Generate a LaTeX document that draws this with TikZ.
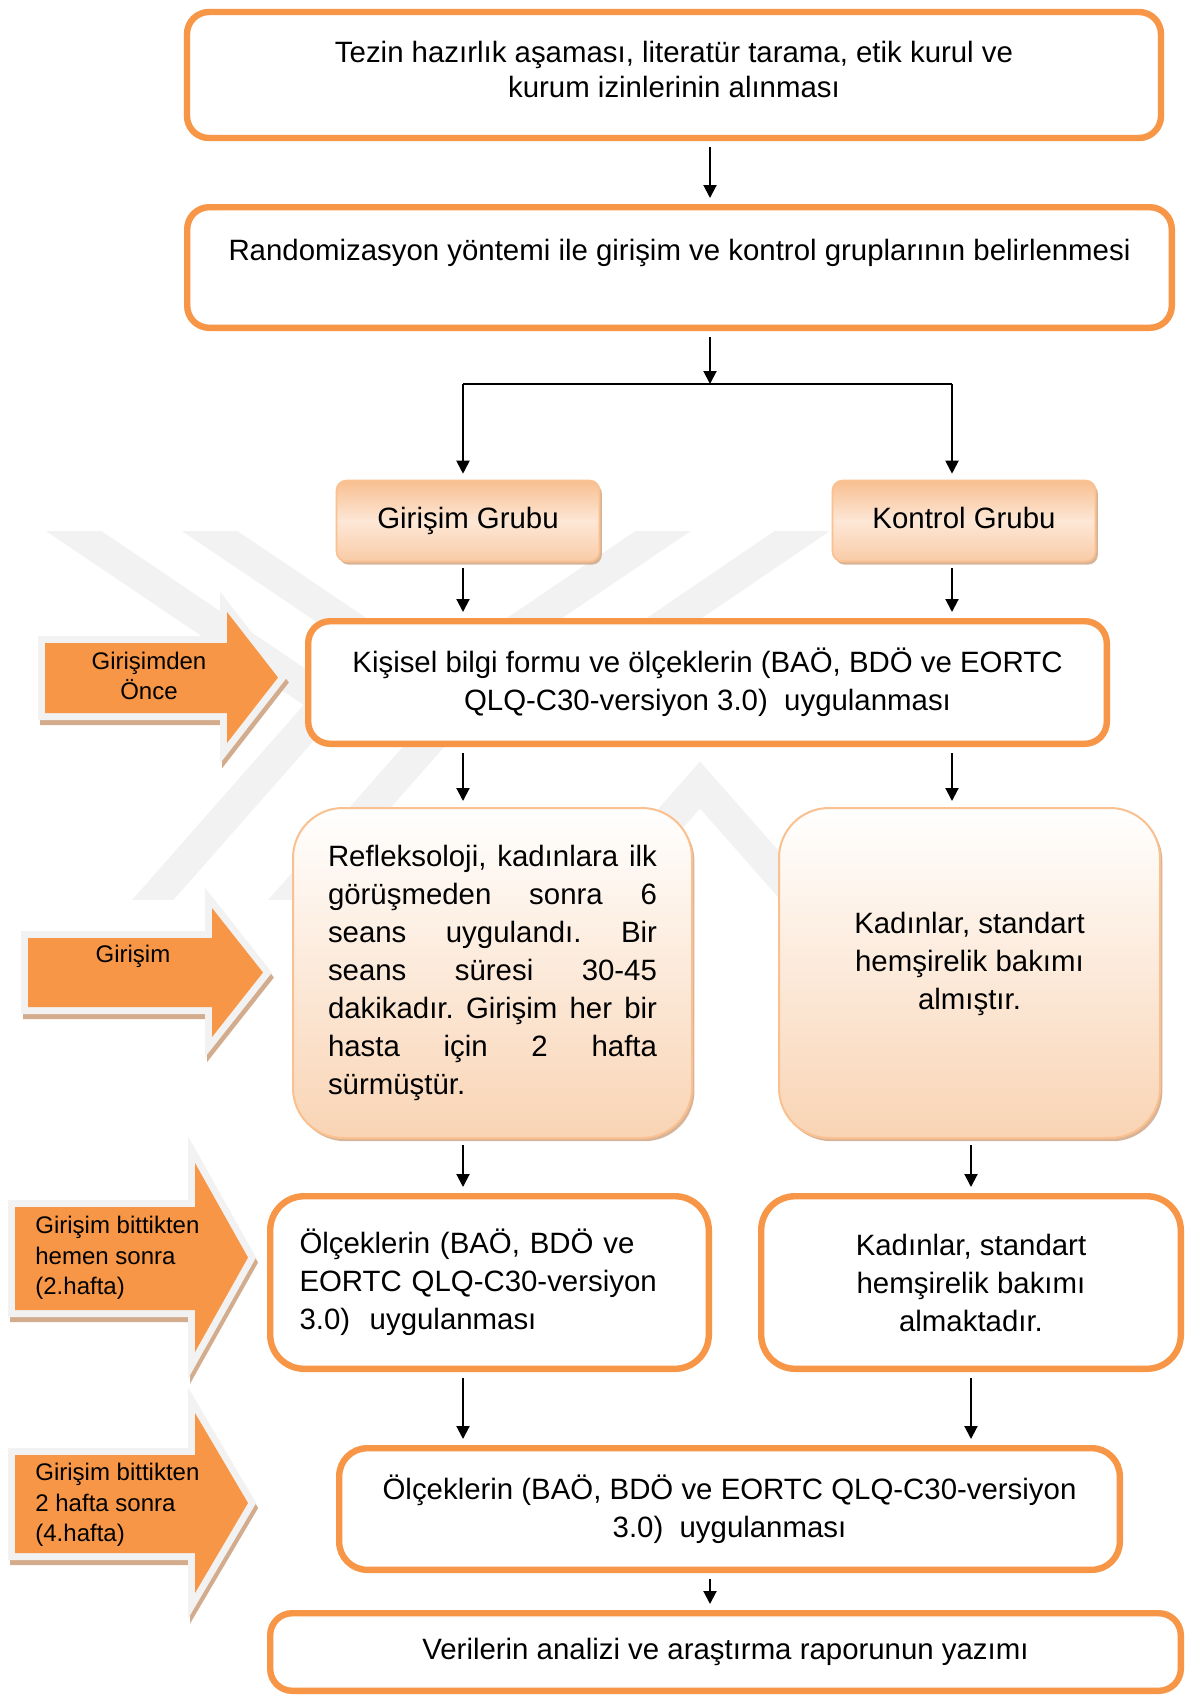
\documentclass[tikz,border=0pt]{standalone}
\usepackage{fontspec}
\setmainfont{Liberation Sans}
\frenchspacing
\usetikzlibrary{shapes.geometric, arrows.meta, positioning, shadows}
\definecolor{accOrange}{HTML}{F79646}
\definecolor{lightOrange}{HTML}{FAC08F}
\definecolor{peach}{HTML}{F9D4B4}
\definecolor{grpTop}{HTML}{F8BE90}
\definecolor{grpMid}{HTML}{FDE7D6}
\definecolor{grpBot}{HTML}{F9CBA6}
\definecolor{shadowTan}{HTML}{D3AC8D}
\definecolor{frameGray}{HTML}{F2F2F2}
\definecolor{wmarkGray}{HTML}{F2F2F2}
\tikzstyle{arrow} = [line width=1pt,-{Triangle[length=6.5pt,width=6.5pt]},shorten <=3pt,shorten >=3pt]
\tikzstyle{connector} = [line width=1pt]
\tikzstyle{process} = [rectangle, rounded corners=11pt, draw=accOrange, line width=3.2pt, fill=white, align=center]
\tikzstyle{groupbox} = [rectangle, rounded corners=5pt, draw=lightOrange, line width=0.8pt, top color=grpTop, bottom color=grpBot, middle color=grpMid, minimum width=131.5pt, minimum height=40.5pt, text height=10.5pt, text depth=3pt, drop shadow={shadow xshift=1.2pt, shadow yshift=-1.6pt, fill=shadowTan, opacity=0.9}]
\tikzstyle{stagebox} = [rectangle, rounded corners=25pt, draw=lightOrange, line width=1pt, top color=white, bottom color=peach, minimum height=165pt, drop shadow={shadow xshift=1.2pt, shadow yshift=-1.6pt, fill=shadowTan, opacity=0.9}]
\tikzset{
	sidetext/.style = {font=\fontsize{12}{15.3}\selectfont, inner sep=0pt},
	wmarkline/.style = {draw=wmarkGray, line width=15.5pt, line join=miter},
}
% side arrow: body left, body top, body bottom, head start, head top, head bottom, tip
\newcommand\sidearrow[7]{%
	\path[fill=shadowTan, draw=shadowTan, line width=7pt, shift={(1pt,-2.5pt)}]
		(#1,#2) -- (#4,#2) -- (#4,#5) -- (#7,{(#5+#6)/2}) -- (#4,#6) -- (#4,#3) -- (#1,#3) -- cycle;
	\path[draw=frameGray, line width=7pt]
		(#1,#2) -- (#4,#2) -- (#4,#5) -- (#7,{(#5+#6)/2}) -- (#4,#6) -- (#4,#3) -- (#1,#3) -- cycle;
	\path[fill=accOrange]
		(#1,#2) -- (#4,#2) -- (#4,#5) -- (#7,{(#5+#6)/2}) -- (#4,#6) -- (#4,#3) -- (#1,#3) -- cycle;
}

\begin{document}
\begin{tikzpicture}[x=1pt, y=1pt, font=\fontsize{14.7}{19}\selectfont]
\useasboundingbox (0,0) rectangle (593.5,-849);
\fill[white] (0,0) rectangle (593.5,-849);

% Watermark
\begin{scope}
\clip (0,-265.5) rectangle (593.5,-449.5);
\draw[wmarkline] (22,-255.5) -- (163.5,-351) -- (68,-459.5);
\draw[wmarkline] (90,-255.5) -- (231.5,-351) -- (136,-459.5);
\draw[wmarkline] (346.3,-255.5) -- (240,-327.5);
\draw[wmarkline] (415.8,-255.5) -- (310,-327.5);
\draw[wmarkline] (291,-459.5) -- (350,-392.5) -- (409,-459.5);
\end{scope}

% Placement of nodes
\node (prep) [process, minimum width=487pt, minimum height=63pt, font=\fontsize{14.7}{17.5}\selectfont, text depth=6pt] at (337,-37.5) {Tezin hazırlık aşaması, literatür tarama, etik kurul ve\\kurum izinlerinin alınması};
\node (rand) [process, node distance=96.25pt, below of=prep, xshift=2.75pt, minimum width=492.3pt, minimum height=60.3pt, text depth=18pt] {Randomizasyon yöntemi ile girişim ve kontrol gruplarının belirlenmesi};
\node (grpInt) [groupbox, node distance=126.75pt, below of=rand, xshift=-105.75pt] {Girişim Grubu};
\node (grpCtl) [groupbox, node distance=248pt, right of=grpInt] {Kontrol Grubu};
\node (baseline) [process, node distance=80.75pt, below of=grpInt, xshift=119.75pt, minimum width=399.3pt, minimum height=61.3pt] {Kişisel bilgi formu ve ölçeklerin (BAÖ, BDÖ ve EORTC\\QLQ-C30-versiyon 3.0)\ \ uygulanması};
\node (intTx) [stagebox, node distance=145.25pt, below of=baseline, xshift=-107.5pt, minimum width=199.5pt, text width=164.5pt, align=justify] {Refleksoloji, kadınlara ilk\linebreak görüşmeden sonra 6\linebreak seans uygulandı. Bir\linebreak seans süresi 30-45\linebreak dakikadır. Girişim her bir\linebreak hasta için 2 hafta\linebreak sürmüştür.};
\node (ctlTx) [stagebox, node distance=238.5pt, right of=intTx, minimum width=190.5pt, align=center, text depth=12pt] {Kadınlar, standart\\hemşirelik bakımı\\almıştır.};
\node (postInt) [process, node distance=154.75pt, below of=intTx, xshift=-1.5pt, rounded corners=17pt, minimum width=219.3pt, minimum height=86.3pt, text width=190pt, align=left] {Ölçeklerin (BAÖ, BDÖ ve\\EORTC QLQ-C30-versiyon\\3.0)\ \ uygulanması};
\node (postCtl) [process, node distance=240.75pt, right of=postInt, rounded corners=17pt, minimum width=209.8pt, minimum height=86.3pt] {Kadınlar, standart\\hemşirelik bakımı\\almaktadır.};
\node (followUp) [process, node distance=113.25pt, below of=postInt, xshift=120pt, rounded corners=14pt, minimum width=390.3pt, minimum height=60.8pt] {Ölçeklerin (BAÖ, BDÖ ve EORTC QLQ-C30-versiyon\\3.0)\ \ uygulanması};
\node (report) [process, node distance=71.5pt, below of=followUp, xshift=-2pt, minimum width=455.3pt, minimum height=38.8pt] {Verilerin analizi ve araştırma raporunun yazımı};

% Side arrows
\sidearrow{22.5}{-321.5}{-356.5}{113.5}{-306}{-371.5}{139}
\node (sideBefore) [sidetext, align=center] at (74.5,-338) {Girişimden\\Önce};
\sidearrow{14}{-469}{-503.5}{106}{-454}{-518.5}{131.5}
\node (sideInt) [sidetext] at (66.5,-478) {Girişim};
\sidearrow{7.5}{-603.5}{-655}{97.5}{-581.5}{-676}{124}
\node (sideWkTwo) [sidetext, align=left, anchor=west] at (17.5,-629) {Girişim bittikten\\hemen sonra\\(2.hafta)};
\sidearrow{7.5}{-727.5}{-776.5}{97.5}{-706.5}{-796.5}{124}
\node (sideWkFour) [sidetext, align=left, anchor=west] at (17.5,-752.5) {Girişim bittikten\\2 hafta sonra\\(4.hafta)};

% Placement of edges
\coordinate (split) at (355,-192);
\coordinate (colL) at (231.5,0);
\coordinate (colR) at (476,0);
\coordinate (colRb) at (485.5,0);

\draw [arrow] (prep.south -| split) -- (rand.north -| split);
\draw [arrow, shorten >=0pt] (rand.south -| split) -- (split);
\draw [connector] (split -| colL) -- (split -| colR);
\draw [arrow, shorten <=0pt] (split -| colL) -- (grpInt.north -| colL);
\draw [arrow, shorten <=0pt] (split -| colR) -- (grpCtl.north -| colR);
\draw [arrow] (grpInt.south -| colL) -- (baseline.north -| colL);
\draw [arrow] (grpCtl.south -| colR) -- (baseline.north -| colR);
\draw [arrow] (baseline.south -| colL) -- (intTx.north -| colL);
\draw [arrow] (baseline.south -| colR) -- (ctlTx.north -| colR);
\draw [arrow] (intTx.south -| colL) -- (postInt.north -| colL);
\draw [arrow] (ctlTx.south -| colRb) -- (postCtl.north -| colRb);
\draw [arrow] (postInt.south -| colL) -- (followUp.north -| colL);
\draw [arrow] (postCtl.south -| colRb) -- (followUp.north -| colRb);
\draw [arrow] (followUp.south -| split) -- (report.north -| split);
\end{tikzpicture}
\end{document}
